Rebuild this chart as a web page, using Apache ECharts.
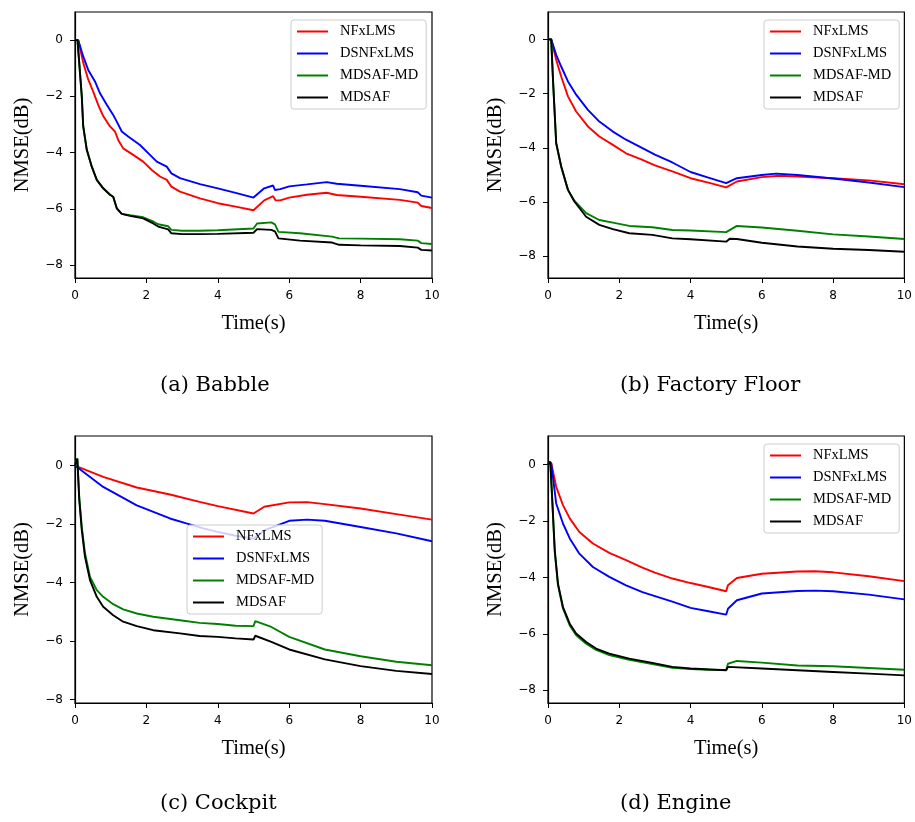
<!doctype html>
<html>
<head>
<meta charset="utf-8">
<title>NMSE</title>
<script src="https://cdn.jsdelivr.net/npm/echarts@6/dist/echarts.min.js"></script>
<style>html,body{margin:0;background:#fff}#app{width:915px;height:822px}</style>
</head>
<body>
<div id="app"></div>
<script>
// 图例名称与刻度
const seriesNames = ["NFxLMS", "DSNFxLMS", "MDSAF-MD", "MDSAF"];
const seriesColors = ["#ff0000", "#0000ff", "#008000", "#000000"];
const xTicks = [0, 2, 4, 6, 8, 10];
const yTicks = [0, -2, -4, -6, -8];
const captions = ["(a) Babble", "(b) Factory Floor", "(c) Cockpit", "(d) Engine"];

// (a) Babble：[时间(s), NMSE(dB)]
const aNFxLMS = [[0,0],[0.09,0],[0.23,-0.8],[0.37,-1.4],[0.51,-1.83],[0.65,-2.3],[0.79,-2.7],[0.98,-3.07],[1.12,-3.25],[1.21,-3.55],[1.35,-3.85],[1.63,-4.08],[1.91,-4.32],[2.15,-4.62],[2.38,-4.85],[2.57,-4.97],[2.7,-5.21],[2.94,-5.39],[3.5,-5.63],[4.0,-5.8],[4.5,-5.92],[5.0,-6.05],[5.3,-5.7],[5.55,-5.55],[5.62,-5.7],[5.75,-5.7],[6.0,-5.6],[6.5,-5.5],[7.05,-5.43],[7.33,-5.51],[8.0,-5.57],[9.1,-5.68],[9.6,-5.78],[9.7,-5.9],[10,-5.97]];
const aDSNFxLMS = [[0,0],[0.09,0],[0.23,-0.58],[0.37,-1.06],[0.56,-1.47],[0.7,-1.89],[0.89,-2.3],[1.07,-2.66],[1.17,-2.9],[1.31,-3.25],[1.49,-3.43],[1.82,-3.73],[2.1,-4.08],[2.29,-4.32],[2.57,-4.5],[2.7,-4.74],[2.94,-4.91],[3.5,-5.12],[4.0,-5.27],[4.5,-5.43],[5.0,-5.6],[5.3,-5.27],[5.55,-5.17],[5.6,-5.33],[5.75,-5.3],[6.0,-5.2],[6.5,-5.13],[7.05,-5.05],[7.33,-5.11],[8.0,-5.18],[9.1,-5.3],[9.6,-5.41],[9.7,-5.53],[10,-5.6]];
const aMDSAFMD = [[0,0],[0.07,0],[0.19,-2.0],[0.23,-3.05],[0.33,-3.9],[0.47,-4.5],[0.61,-4.97],[0.79,-5.27],[0.98,-5.5],[1.07,-5.57],[1.17,-5.98],[1.31,-6.18],[1.54,-6.23],[1.91,-6.3],[2.19,-6.45],[2.33,-6.55],[2.61,-6.62],[2.7,-6.75],[3.0,-6.78],[3.5,-6.78],[4.0,-6.76],[5.0,-6.7],[5.1,-6.52],[5.5,-6.48],[5.6,-6.55],[5.7,-6.82],[6.3,-6.87],[7.2,-6.99],[7.4,-7.05],[8.0,-7.06],[9.1,-7.08],[9.6,-7.13],[9.7,-7.22],[10,-7.25]];
const aMDSAF = [[0,0],[0.07,0],[0.19,-2.0],[0.23,-3.07],[0.33,-3.9],[0.47,-4.5],[0.61,-4.97],[0.79,-5.27],[0.98,-5.5],[1.07,-5.57],[1.17,-5.98],[1.31,-6.18],[1.54,-6.25],[1.91,-6.34],[2.19,-6.52],[2.33,-6.63],[2.61,-6.73],[2.7,-6.87],[3.0,-6.9],[3.5,-6.9],[4.0,-6.89],[5.0,-6.85],[5.1,-6.72],[5.5,-6.75],[5.6,-6.8],[5.7,-7.05],[6.3,-7.13],[7.2,-7.2],[7.4,-7.28],[8.0,-7.3],[9.1,-7.32],[9.6,-7.38],[9.7,-7.46],[10,-7.48]];

// (b) Factory Floor
const bNFxLMS = [[0,0],[0.09,0],[0.23,-0.75],[0.37,-1.37],[0.56,-2.1],[0.79,-2.66],[1.12,-3.21],[1.44,-3.58],[1.82,-3.89],[2.19,-4.2],[2.65,-4.44],[3.0,-4.65],[3.49,-4.87],[4.0,-5.12],[4.5,-5.28],[5.0,-5.46],[5.3,-5.24],[6.0,-5.08],[6.5,-5.03],[7.0,-5.06],[8.0,-5.12],[9.0,-5.2],[10,-5.34]];
const bDSNFxLMS = [[0,0],[0.09,0],[0.23,-0.57],[0.37,-1.0],[0.56,-1.55],[0.79,-2.04],[1.12,-2.6],[1.44,-3.03],[1.82,-3.4],[2.19,-3.7],[2.65,-4.01],[3.0,-4.25],[3.49,-4.54],[4.0,-4.89],[4.5,-5.1],[5.0,-5.3],[5.3,-5.12],[6.0,-5.0],[6.4,-4.95],[7.0,-5.0],[8.0,-5.13],[9.0,-5.28],[10,-5.45]];
const bMDSAFMD = [[0,0],[0.09,0],[0.14,-1.49],[0.23,-3.83],[0.37,-4.69],[0.56,-5.55],[0.74,-5.95],[1.07,-6.41],[1.44,-6.66],[1.82,-6.76],[2.28,-6.88],[2.93,-6.93],[3.49,-7.03],[4.0,-7.05],[5.0,-7.11],[5.3,-6.88],[6.0,-6.94],[7.0,-7.06],[8.0,-7.19],[9.0,-7.27],[10,-7.36]];
const bMDSAF = [[0,0],[0.09,0],[0.14,-1.49],[0.23,-3.83],[0.37,-4.69],[0.56,-5.55],[0.74,-5.98],[1.07,-6.54],[1.44,-6.84],[1.82,-7.0],[2.28,-7.15],[2.93,-7.21],[3.49,-7.34],[4.0,-7.37],[5.0,-7.46],[5.1,-7.35],[5.3,-7.36],[6.0,-7.5],[7.0,-7.64],[8.0,-7.72],[9.0,-7.77],[10,-7.83]];

// (c) Cockpit
const cNFxLMS = [[0,0],[0.79,-0.39],[1.73,-0.75],[2.66,-0.99],[3.49,-1.24],[4.0,-1.39],[5.0,-1.64],[5.3,-1.41],[6.0,-1.26],[6.5,-1.25],[7.0,-1.32],[8.0,-1.47],[9.0,-1.66],[10,-1.85]];
const cDSNFxLMS = [[0,0],[0.79,-0.73],[1.73,-1.36],[2.66,-1.81],[3.12,-1.98],[3.6,-2.15],[4.0,-2.27],[4.5,-2.4],[5.0,-2.5],[5.3,-2.22],[6.0,-1.89],[6.5,-1.85],[7.0,-1.89],[8.0,-2.1],[9.0,-2.32],[10,-2.59]];
const cMDSAFMD = [[0,0],[0.065,0.24],[0.12,-1.1],[0.19,-2.1],[0.28,-3.0],[0.42,-3.81],[0.61,-4.26],[0.79,-4.49],[1.07,-4.74],[1.35,-4.92],[1.73,-5.06],[2.19,-5.17],[2.94,-5.29],[3.49,-5.38],[4.0,-5.42],[4.5,-5.48],[5.0,-5.49],[5.05,-5.32],[5.5,-5.52],[6.0,-5.86],[7.0,-6.29],[8.0,-6.52],[9.0,-6.71],[10,-6.83]];
const cMDSAF = [[0,0],[0.065,0.24],[0.12,-1.19],[0.19,-2.21],[0.28,-3.12],[0.42,-3.92],[0.61,-4.49],[0.79,-4.83],[1.07,-5.12],[1.35,-5.34],[1.73,-5.49],[2.19,-5.63],[2.94,-5.74],[3.49,-5.83],[4.0,-5.86],[4.5,-5.91],[5.0,-5.95],[5.05,-5.82],[5.5,-6.03],[6.0,-6.29],[7.0,-6.63],[8.0,-6.86],[9.0,-7.02],[10,-7.13]];

// (d) Engine
const dNFxLMS = [[0,0],[0.09,0.05],[0.23,-0.79],[0.42,-1.44],[0.61,-1.91],[0.88,-2.39],[1.26,-2.8],[1.72,-3.13],[2.19,-3.39],[2.65,-3.65],[3.0,-3.83],[3.49,-4.04],[4.0,-4.2],[4.5,-4.34],[5.0,-4.49],[5.05,-4.28],[5.3,-4.02],[6.0,-3.87],[7.0,-3.79],[7.5,-3.78],[8.0,-3.82],[9.0,-3.96],[10,-4.13]];
const dDSNFxLMS = [[0,0],[0.09,0.05],[0.23,-1.38],[0.42,-2.09],[0.61,-2.62],[0.88,-3.16],[1.26,-3.63],[1.72,-3.98],[2.19,-4.28],[2.65,-4.52],[3.0,-4.66],[3.49,-4.86],[4.0,-5.08],[4.5,-5.2],[5.0,-5.32],[5.05,-5.11],[5.3,-4.81],[6.0,-4.57],[7.0,-4.48],[7.5,-4.47],[8.0,-4.49],[9.0,-4.61],[10,-4.78]];
const dMDSAFMD = [[0,0],[0.065,0.1],[0.12,-1.3],[0.19,-3.1],[0.28,-4.28],[0.42,-5.1],[0.61,-5.7],[0.79,-6.05],[1.07,-6.35],[1.35,-6.57],[1.72,-6.75],[2.28,-6.92],[2.93,-7.07],[3.49,-7.2],[4.0,-7.25],[4.5,-7.27],[5.0,-7.28],[5.05,-7.06],[5.3,-6.96],[6.0,-7.02],[7.0,-7.12],[8.0,-7.15],[9.0,-7.21],[10,-7.27]];
const dMDSAF = [[0,0],[0.065,0.1],[0.12,-1.26],[0.19,-3.04],[0.28,-4.22],[0.42,-5.05],[0.61,-5.64],[0.79,-5.99],[1.07,-6.29],[1.35,-6.52],[1.72,-6.7],[2.28,-6.88],[2.93,-7.03],[3.49,-7.17],[4.0,-7.23],[5.0,-7.29],[5.05,-7.17],[6.0,-7.23],[7.0,-7.29],[8.0,-7.35],[9.0,-7.41],[10,-7.47]];

const panelData = [
  [aNFxLMS, aDSNFxLMS, aMDSAFMD, aMDSAF],
  [bNFxLMS, bDSNFxLMS, bMDSAFMD, bMDSAF],
  [cNFxLMS, cDSNFxLMS, cMDSAFMD, cMDSAF],
  [dNFxLMS, dDSNFxLMS, dMDSAFMD, dMDSAF]
];

// 布局（像素）
const grids = [
  { left: 75, top: 12, width: 357, height: 266 },
  { left: 548, top: 12, width: 358, height: 266 },
  { left: 75, top: 436, width: 357, height: 267 },
  { left: 548, top: 436, width: 358, height: 267 }
];
const yRanges = [[-8.46, 1.0], [-8.8, 1.01], [-8.12, 1.01], [-8.45, 1.01]];
const legendPos = [{ left: 291, top: 20 }, { left: 764, top: 20 }, { left: 187, top: 525 }, { left: 764, top: 444 }];
const captionPos = [{ left: 160, top: 375 }, { left: 620, top: 375 }, { left: 160, top: 793 }, { left: 620, top: 793 }];

const tickFont = { fontFamily: "DejaVu Sans", fontSize: 12, color: "#000" };
const nameFont = { fontFamily: "Liberation Serif", fontSize: 20.5, color: "#000" };
const fmt = (v) => String(v).replace("-", "\u2212"); // matplotlib 风格负号

const option = {
  animation: false,
  backgroundColor: "#fff",
  grid: grids.map((g) => Object.assign({ show: true, borderColor: "#000", borderWidth: 1.2, backgroundColor: "#fff" }, g)),
  xAxis: grids.map((g, i) => ({
    type: "value", gridIndex: i, min: 0, max: 10, interval: 2,
    name: "Time(s)", nameLocation: "middle", nameGap: 35, nameTextStyle: nameFont,
    axisLine: { show: true, onZero: false, lineStyle: { color: "#000", width: 1.2 } },
    axisTick: { show: true, length: 5, lineStyle: { color: "#000", width: 1 } },
    axisLabel: Object.assign({ margin: 12, formatter: fmt }, tickFont),
    splitLine: { show: false }
  })),
  yAxis: grids.map((g, i) => ({
    type: "value", gridIndex: i, min: yRanges[i][0], max: yRanges[i][1],
    name: "NMSE(dB)", nameLocation: "middle", nameGap: 42, nameTextStyle: nameFont,
    axisLine: { show: true, onZero: false, lineStyle: { color: "#000", width: 1.2 } },
    axisTick: { show: true, length: 5, customValues: yTicks, lineStyle: { color: "#000", width: 1 } },
    axisLabel: Object.assign({ margin: 12, customValues: yTicks, formatter: fmt }, tickFont),
    splitLine: { show: false }
  })),
  legend: legendPos.map((p) => ({
    left: p.left, top: p.top, orient: "vertical", data: seriesNames,
    itemWidth: 31, itemHeight: 14, itemGap: 7,
    itemStyle: { opacity: 0 }, // 只显示线段，不显示圆点
    padding: [4, 8, 4, 5],
    backgroundColor: "rgba(255,255,255,0.8)", borderColor: "#cccccc", borderWidth: 1, borderRadius: 3,
    textStyle: { fontFamily: "Liberation Serif", fontSize: 14.5, color: "#000", padding: [0, 0, 0, 7] }
  })),
  title: captions.map((t, i) => ({
    text: t, left: captionPos[i].left, top: captionPos[i].top, padding: 0,
    textStyle: { fontFamily: "DejaVu Serif", fontSize: 21, fontWeight: "normal", color: "#000" }
  })),
  series: []
};

// 每个子图 4 条曲线
panelData.forEach((list, p) => {
  list.forEach((data, k) => {
    option.series.push({
      type: "line", name: seriesNames[k], xAxisIndex: p, yAxisIndex: p,
      data: data, symbol: "none", showSymbol: false,
      lineStyle: { color: seriesColors[k], width: 1.9 }, itemStyle: { color: seriesColors[k] },
      z: 2 + k
    });
  });
});

const chart = echarts.init(document.getElementById("app"), null, { renderer: "canvas" });
chart.setOption(option);
</script>
</body>
</html>
